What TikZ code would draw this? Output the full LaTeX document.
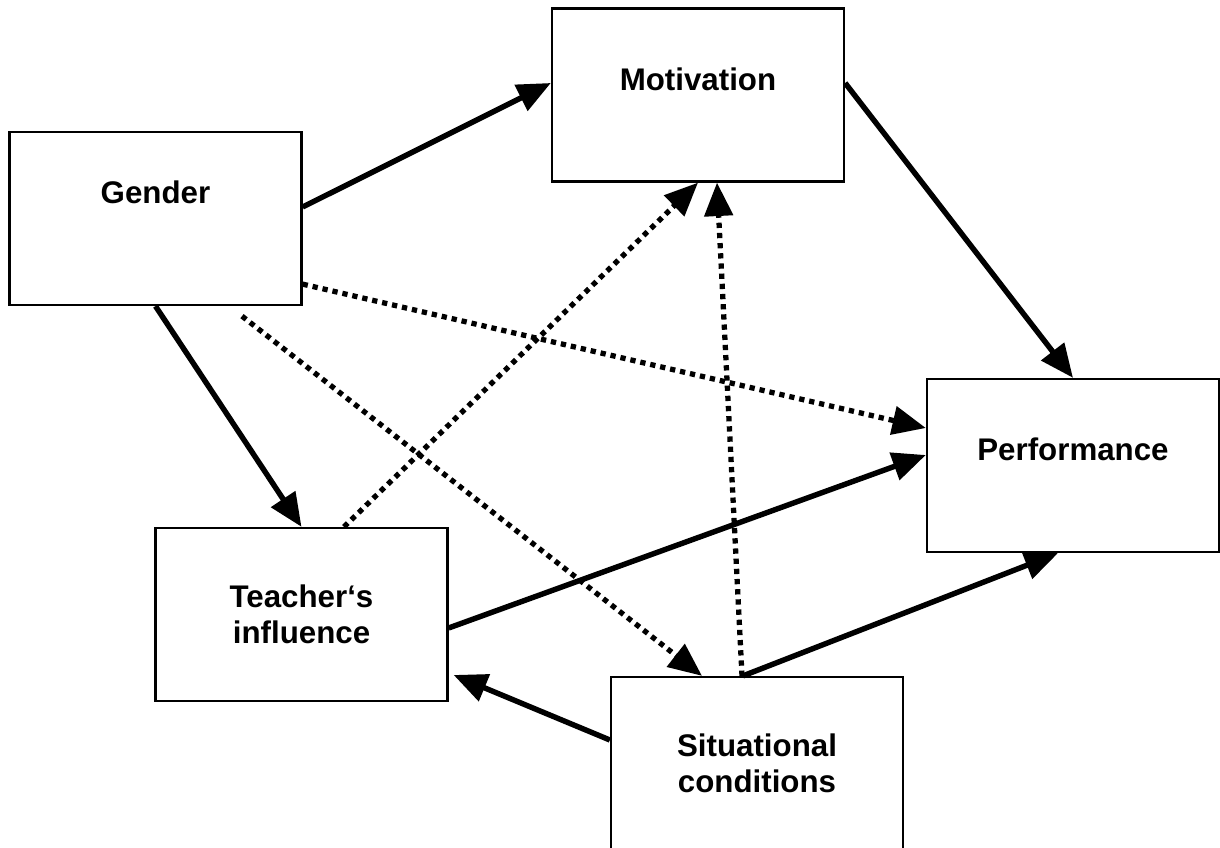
\documentclass[tikz,border=0pt]{standalone}
\usepackage{fontspec}
\setmainfont{Liberation Sans}
\usetikzlibrary{arrows.meta, calc}

\begin{document}
\begin{tikzpicture}[>={Triangle[length=9.5pt,width=8pt]}]
        \tikzstyle{factor} = [rectangle, minimum width=2.92cm, minimum height=1.73cm, text centered, align=center, draw=black, line width=0.65pt, font=\fontsize{8.9}{10.4}\selectfont\bfseries]
        \tikzstyle{arrow} = [line width=1.55pt,->]
        \tikzstyle{dottedarrow} = [line width=1.5pt,->,dash pattern=on 1.5pt off 1.4pt]

        \useasboundingbox (0,0) rectangle (12.2,8.48);

        \node (gender) [factor, label={[font=\fontsize{8.9}{10.4}\selectfont\bfseries, yshift=0.265cm]center:Gender}] at (1.555,6.295) {};
        \node (motiv) [factor, label={[font=\fontsize{8.9}{10.4}\selectfont\bfseries, yshift=0.16cm]center:Motivation}] at (6.98,7.53) {};
        \node (perf) [factor, label={[font=\fontsize{8.9}{10.4}\selectfont\bfseries, yshift=0.165cm]center:Performance}] at (10.73,3.825) {};
        \node (teach) [factor] at (3.015,2.335) {Teacher‘s\\influence};
        \node (situ) [factor] at (7.57,0.845) {Situational\\conditions};

        % solid paths
        \draw [arrow] ([yshift=0.115cm]gender.east) -- ([yshift=0.12cm]motiv.west);
        \draw [arrow] ([yshift=0.12cm]motiv.east) -- (perf.north);
        \draw [arrow] (gender.south) -- (teach.north);
        \draw [arrow] ([yshift=-0.135cm]teach.east) -- ([yshift=0.105cm]perf.west);
        \draw [arrow] ([xshift=-0.14cm]situ.north) -- ([xshift=-0.15cm]perf.south);
        \draw [arrow] ([yshift=0.235cm]situ.west) -- ([xshift=0.05cm,yshift=-0.605cm]teach.east);

        % dotted paths
        \draw [dottedarrow] ([yshift=0.22cm]gender.south east) -- ([yshift=0.375cm]perf.west);
        \draw [dottedarrow] ([xshift=0.865cm,yshift=-0.1cm]gender.south) -- ([xshift=-0.55cm]situ.north);
        \draw [dottedarrow] ([xshift=0.425cm]teach.north) -- (motiv.south);
        \draw [dottedarrow] ([xshift=-0.15cm]situ.north) -- ([xshift=0.19cm]motiv.south);
\end{tikzpicture}
\end{document}
